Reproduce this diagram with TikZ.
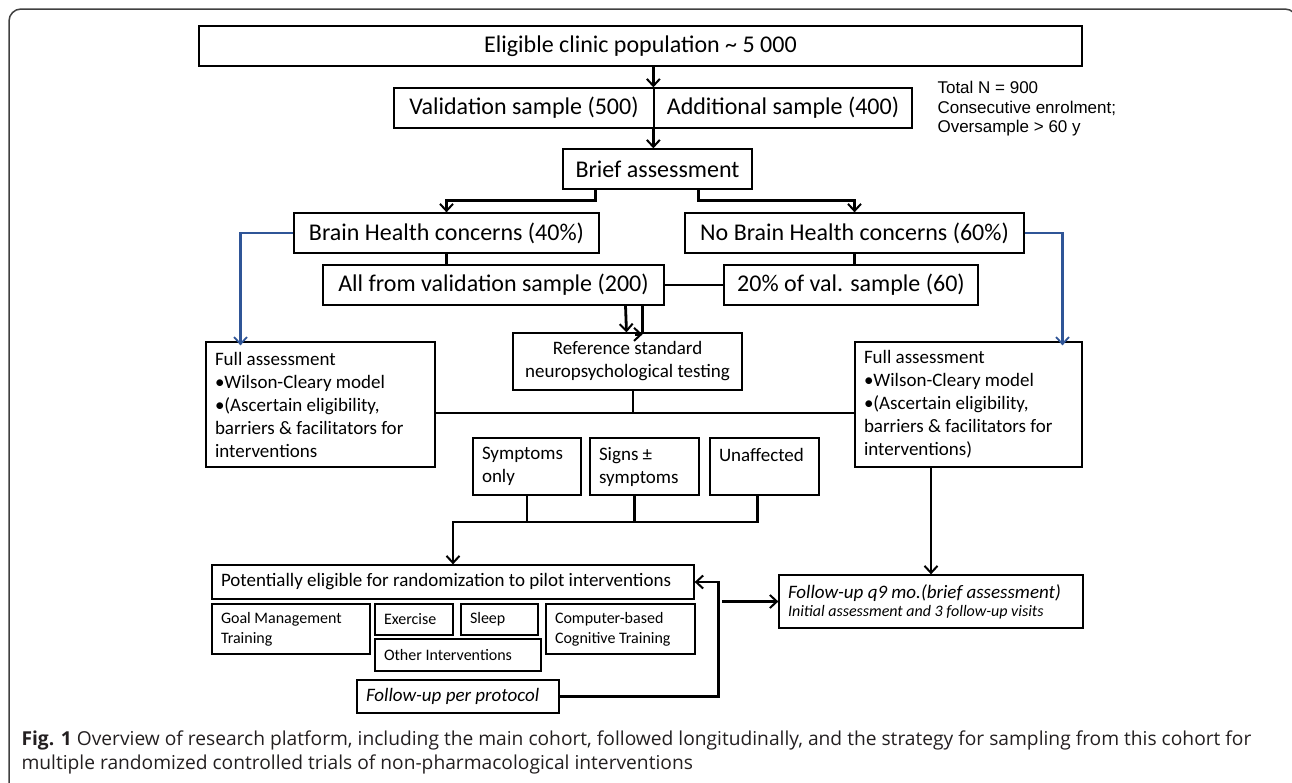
\documentclass[tikz,border=0pt]{standalone}
\usepackage{fontspec}
\setmainfont{Carlito}
\newfontfamily\notefont{Liberation Sans}
\newfontfamily\capfont{Open Sans}
\usetikzlibrary{arrows.meta}

\definecolor{linkblue}{RGB}{47,85,151}
\definecolor{capgray}{RGB}{35,31,32}

\tikzset{
  box/.style={draw, line width=1.3pt, inner sep=0pt, align=center},
  lbox/.style={draw, line width=1.3pt, inner ysep=0pt, inner xsep=9pt, align=flush left},
  big/.style={font=\fontsize{24}{28}\selectfont},
  mid/.style={font=\fontsize{19}{23}\selectfont},
  small/.style={font=\fontsize{16}{20}\selectfont},
  conn/.style={line width=2.8pt},
  arr/.style={conn, -{Straight Barb[length=7pt,width=13pt,line width=2pt]}},
  bluearr/.style={draw=linkblue, line width=2.2pt, -{Straight Barb[length=7pt,width=13pt,line width=1.8pt]}}
}

\begin{document}
\begin{tikzpicture}[x=1pt,y=-1pt]
\useasboundingbox (0,0) rectangle (1292,782);

\draw[black!75, line width=1.5pt, rounded corners=12pt] (9,800) -- (9,9) -- (1297,9) -- (1297,800);

\node[box,big,minimum width=883pt,minimum height=40pt] (elig) at (640.5,46) {Eligible clinic population \textasciitilde{} 5 000};
\node[box,big,minimum width=260pt,minimum height=40pt] (valid) at (524,108) {Validation sample (500)};
\node[box,big,minimum width=258pt,minimum height=40pt] (addl) at (783,108) {Additional sample (400)};
\node[anchor=north west, align=left, font=\notefont\fontsize{17}{19.5}\selectfont] (note) at (934,78) {Total N = 900\\Consecutive enrolment;\\Oversample > 60 y};

\node[box,big,minimum width=189pt,minimum height=40pt] (brief) at (657.5,169) {Brief assessment};
\node[box,big,minimum width=305pt,minimum height=40pt] (brain) at (446.5,233) {Brain Health concerns (40\%)};
\node[box,big,minimum width=339pt,minimum height=40pt] (nobrain) at (854.5,233) {No Brain Health concerns (60\%)};
\node[box,big,minimum width=341pt,minimum height=40pt] (allfrom) at (493.5,285) {All from validation sample (200)};
\node[box,big,minimum width=254pt,minimum height=40pt] (twenty) at (851,285) {20\% of val. sample (60)};

\node[lbox,mid,text width=211pt,minimum height=125pt] (fullL) at (320.5,404.5) {Full assessment\\•Wilson-Cleary model\\•(Ascertain eligibility,\\barriers \& facilitators for\\interventions};
\node[box,mid,minimum width=229pt,minimum height=57pt] (ref) at (627.5,361.5) {Reference standard\\neuropsychological testing};
\node[lbox,mid,text width=209pt,minimum height=125pt] (fullR) at (968.5,404.5) {Full assessment\\•Wilson-Cleary model\\•(Ascertain eligibility,\\barriers \& facilitators for\\interventions)};

\node[lbox,mid,text width=90pt,minimum height=57pt] (symp) at (527,466.5) {Symptoms\\only};
\node[lbox,mid,text width=91pt,minimum height=57pt] (signs) at (644.5,466.5) {Signs ±\\symptoms};
\node[lbox,mid,text width=91pt,minimum height=57pt] (unaff) at (764.5,466.5) {Unaffected\\\mbox{}};

\node[lbox,mid,text width=464pt,minimum height=34pt] (potent) at (453,582) {Potentially eligible for randomization to pilot interventions};
\node[lbox,text width=286pt,minimum height=53pt] (fq9) at (931,601.5) {{\fontsize{19}{22}\selectfont\itshape Follow-up q9 mo.(brief assessment)}\\[3pt]{\fontsize{16}{19}\selectfont\itshape Initial assessment and 3 follow-up visits}};

\node[lbox,small,text width=140pt,minimum height=50pt] (goal) at (291,629) {Goal Management\\Training};
\node[lbox,small,text width=60pt,minimum height=31pt] (exer) at (414,619.5) {Exercise};
\node[lbox,small,text width=59pt,minimum height=31pt] (sleep) at (499.5,619.5) {Sleep};
\node[lbox,small,text width=148pt,minimum height=32pt] (other) at (458,655) {Other Interventions};
\node[lbox,small,text width=131pt,minimum height=50pt] (comp) at (620.5,629) {Computer-based\\Cognitive Training};
\node[lbox,text width=184pt,minimum height=33pt,font=\fontsize{19}{23}\selectfont\itshape] (fpp) at (458,696.5) {Follow-up per protocol};

\coordinate (hub) at (633,413);
\coordinate (join) at (453,522);

\draw[arr] (elig.south -| addl.west) -- (addl.north west);
\draw[arr] (addl.south west) -- (brief.north -| addl.south west);
\draw[arr] ([xshift=-62pt]brief.south) -- ++(0,11) -| (brain.north);
\draw[arr] ([xshift=41pt]brief.south) -- ++(0,11) -| (nobrain.north);
\draw[conn] (brain.south) -- (brain.south |- allfrom.north);
\draw[conn] (nobrain.south) -- (nobrain.south |- twenty.north);
\draw[conn] (allfrom.east) -- (twenty.west);

\draw[bluearr] (brain.west) -| ([xshift=-80pt,yshift=-4pt]fullL.north);
\draw[bluearr] (nobrain.east) -| ([xshift=94pt,yshift=-4pt]fullR.north);

\draw[arr] ([xshift=132pt]allfrom.south) -- ([xshift=-1pt]ref.north);
\draw[conn] ([xshift=149pt]allfrom.south) -- ([xshift=15pt]ref.north);
\draw[arr] ([xshift=7pt,yshift=-2pt]ref.north) -- ([xshift=15pt,yshift=-2pt]ref.north);

\draw[conn] (ref.south -| hub) -- (hub);
\draw[conn] (fullL.east |- hub) -- (fullR.west |- hub);

\draw[conn] (symp.south) -- (symp.south |- join);
\draw[conn] ([xshift=-10pt]signs.south) -- ([xshift=-10pt]signs.south |- join);
\draw[arr] ([xshift=-7pt]unaff.south) -- ([xshift=-7pt]unaff.south |- join) -- (join) -- (potent.north);

\draw[arr] (fq9.north |- fullR.south) -- (fq9.north);
\draw[arr] (fpp.east) -- ++(159,0) |- (potent.east);
\draw[arr] ([xshift=-56pt]fq9.west) -- (fq9.west);

\node[anchor=north west, align=flush left, text=capgray, font=\capfont\fontsize{19.2}{24.5}\selectfont] (caption) at (18,727) {\textbf{Fig. 1} Overview of research platform, including the main cohort, followed longitudinally, and the strategy for sampling from this cohort for\\multiple randomized controlled trials of non-pharmacological interventions};
\end{tikzpicture}
\end{document}
